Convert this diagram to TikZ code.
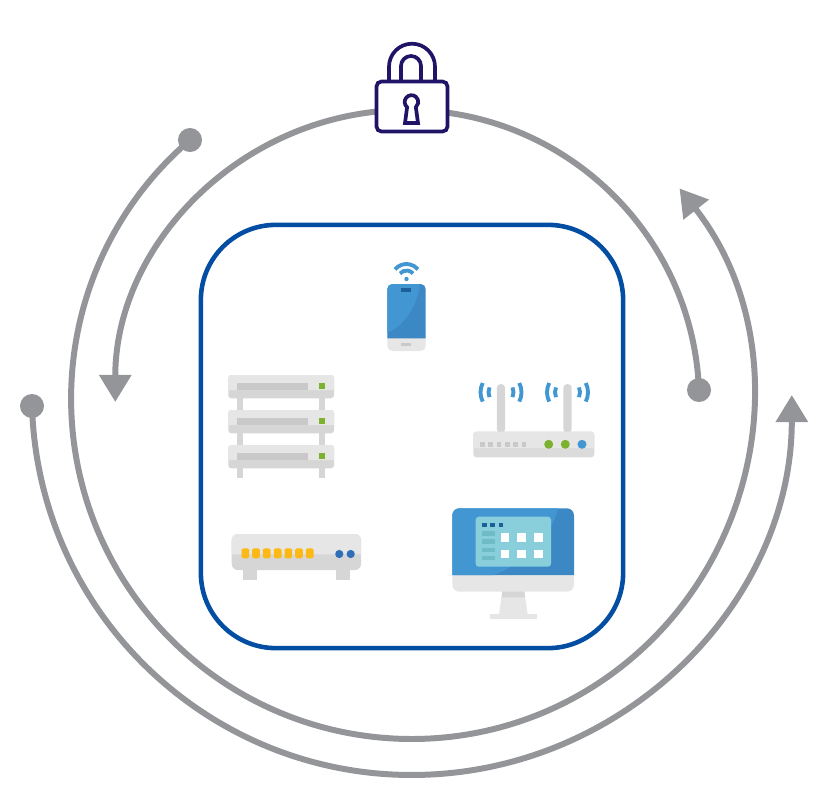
\documentclass[tikz,border=0pt]{standalone}
\usepackage{xcolor}
\usetikzlibrary{arrows.meta}

\definecolor{ringgray}{HTML}{939598}
\definecolor{framepblue}{HTML}{034EA2}
\definecolor{lockviolet}{HTML}{1F1466}
\definecolor{devlight}{HTML}{E6E6E6}
\definecolor{devmid}{HTML}{D6D6D6}
\definecolor{devdark}{HTML}{C9C9C9}
\definecolor{ledgreen}{HTML}{7CB22F}
\definecolor{skyblue}{HTML}{4297D3}
\definecolor{deepblue}{HTML}{3C88C4}
\definecolor{navyblue}{HTML}{1C5F99}
\definecolor{panelteal}{HTML}{88CFDB}
\definecolor{rowteal}{HTML}{6FBCC8}
\definecolor{portyellow}{HTML}{FDB913}
\definecolor{switchblue}{HTML}{2F6FB7}

\begin{document}
\begin{tikzpicture}[
    x=.01cm, y=-.01cm,
    ring/.style={draw=ringgray, line width=1.7pt},
    ringarrow/.style={ring, -{Triangle[length=.27cm, width=.31cm]}},
    ringdot/.style={circle, fill=ringgray, minimum size=.24cm, inner sep=0pt},
    lockline/.style={draw=lockviolet, line width=1.05pt},
    wifi/.style={draw=skyblue, line width=1.1pt}
]
    \useasboundingbox (0,0) rectangle (839,806);

    % rings
    \node[ringdot] (outerdot) at (32,406) {};
    \node[ringdot] (middledot) at (190,140) {};
    \node[ringdot] (innerdot) at (699,390) {};
    \draw[ringarrow] (outerdot.center) arc[start angle=178.34, end angle=0, radius=380];
    \draw[ringarrow] (middledot.center) arc[start angle=229.4, end angle=-38.1, radius=340.5];
    \draw[ringarrow] (innerdot.center) arc[start angle=-2.35, end angle=-180, radius=292];

    % frame
    \node[draw=framepblue, line width=1.3pt, rounded corners=.75cm, minimum width=4.22cm,
        minimum height=4.23cm, inner sep=0pt] (frame) at (412,436.5) {};

    % lock
    \draw[lockline] (389,82) -- (389,66.7) arc[start angle=180, end angle=360, radius=23] -- (435,82);
    \draw[lockline] (401,82) -- (401,66) arc[start angle=180, end angle=360, radius=10] -- (421,82);
    \node[draw=lockviolet, fill=white, line width=1.05pt, rounded corners=.05cm, minimum width=.71cm,
        minimum height=.50cm, inner sep=0pt] (lock) at (412,106.5) {};
    \draw[lockline] (407.1,107.2) arc[start angle=130, end angle=410, radius=6.8]
        -- (418,123) -- (405,123) -- cycle;

    % phone
    \fill[devlight, rounded corners=.05cm] (387.3,330) rectangle (425.7,351);
    \fill[deepblue, rounded corners=.05cm] (387.3,338.3) -- (387.3,284) -- (425.7,284)
        [sharp corners] -- (425.7,338.3) -- cycle;
    \fill[skyblue, rounded corners=.05cm] (387.3,333) -- (387.3,284) [sharp corners] -- (420,284)
        .. controls (417,306) and (405,325) .. (387.3,333) -- cycle;
    \fill[navyblue] (400.7,288.3) rectangle (411.3,291.7);
    \fill[devdark] (400.7,342.7) rectangle (411.3,346.3);
    \draw[wifi] (406.5,279) +(220:15) arc[start angle=220, end angle=320, radius=15];
    \draw[wifi] (406.5,279) +(220:8.5) arc[start angle=220, end angle=320, radius=8.5];
    \fill[skyblue] (406.5,279) circle (2.2);

    % server rack
    \foreach \ytop in {375,410,445} {
        \fill[devmid] (237.3,\ytop+23) rectangle (243.3,\ytop+35-\ifnum\ytop=445 2\else 0\fi);
        \fill[devmid] (319,\ytop+23) rectangle (325.3,\ytop+35-\ifnum\ytop=445 2\else 0\fi);
        \fill[devmid, rounded corners=.03cm] (228.3,\ytop) rectangle (334,\ytop+23.3);
        \fill[devlight, rounded corners=.03cm] (228.3,\ytop+15) -- (228.3,\ytop) -- (334,\ytop)
            [sharp corners] -- (334,\ytop+15) -- cycle;
        \fill[devdark] (236.7,\ytop+8.3) rectangle (308.3,\ytop+15);
        \fill[ledgreen] (319,\ytop+8.3) rectangle (325.3,\ytop+14.3);
    }

    % router
    \foreach \xant in {501,567.5} {
        \fill[devmid, rounded corners=.04cm] (\xant-4.2,433) -- (\xant-4.2,384) -- (\xant+4.2,384) -- (\xant+4.2,433) -- cycle;
        \draw[wifi] (\xant,392.3) +(207:20.5) arc[start angle=207, end angle=153, radius=20.5];
        \draw[wifi] (\xant,392.3) +(203:12.5) arc[start angle=203, end angle=157, radius=12.5];
        \draw[wifi] (\xant,392.3) +(-27:20.5) arc[start angle=-27, end angle=27, radius=20.5];
        \draw[wifi] (\xant,392.3) +(-23:12.5) arc[start angle=-23, end angle=23, radius=12.5];
    }
    \fill[devmid!70!devlight, rounded corners=.03cm] (473.3,431.7) rectangle (594.3,457.3);
    \fill[devlight, rounded corners=.03cm] (473.3,448) -- (473.3,431.7) -- (594.3,431.7)
        [sharp corners] -- (594.3,448) -- cycle;
    \foreach \xled in {480,488.3,496.7,505,513.3,521.7}
        \fill[devdark] (\xled,442) rectangle +(4.5,5);
    \fill[ledgreen] (548.7,444.3) circle (4.5);
    \fill[ledgreen] (565.3,444.3) circle (4.5);
    \fill[skyblue] (582,444.3) circle (4.5);

    % switch
    \fill[devmid] (242.7,568) rectangle (256.7,580);
    \fill[devmid] (336,568) rectangle (350,580);
    \fill[devmid, rounded corners=.06cm] (231.7,534) rectangle (361,570);
    \fill[devlight, rounded corners=.06cm] (231.7,554.3) -- (231.7,534) -- (361,534)
        [sharp corners] -- (361,554.3) -- cycle;
    \foreach \xport in {245.3,256,266.7,277.7,288.3,299,309.7}
        \fill[portyellow, rounded corners=.02cm] (\xport-3.8,558.3) -- (\xport-3.8,548.3) -- (\xport+3.8,548.3) -- (\xport+3.8,558.3) -- cycle;
    \fill[switchblue] (339.3,554) circle (4.1);
    \fill[switchblue] (350.7,554) circle (4.1);

    % monitor
    \fill[devlight] (490,614) rectangle (536.7,619);
    \fill[devlight] (502.3,591) -- (524.3,591) -- (527.7,614.5) -- (499,614.5) -- cycle;
    \fill[devmid] (502.3,591) -- (524.3,591) -- (525,597.3) -- (501.6,597.3) -- cycle;
    \fill[devlight, rounded corners=.07cm] (452.3,570) rectangle (574,591.7);
    \fill[deepblue, rounded corners=.07cm] (452.3,575) -- (452.3,508.3) -- (574,508.3)
        [sharp corners] -- (574,575) -- cycle;
    \fill[skyblue, rounded corners=.07cm] (452.3,575) -- (452.3,508.3) [sharp corners] -- (558,508.3)
        .. controls (552,535) and (530,560) .. (494,575) -- cycle;
    \fill[panelteal, rounded corners=.03cm] (475.7,516.7) rectangle (551,566.7);
    \foreach \xsq in {482,490,498.7}
        \fill[navyblue] (\xsq,522.7) rectangle +(4.7,4.7);
    \foreach \yrow in {531.3,539.3,547.7,556}
        \fill[rowteal] (482,\yrow) rectangle +(13,4.4);
    \foreach \xsq in {500.7,517.3,534}
        \foreach \ysq in {533.3,550}
            \fill[white] (\xsq,\ysq) rectangle +(8.7,8.4);
\end{tikzpicture}
\end{document}
